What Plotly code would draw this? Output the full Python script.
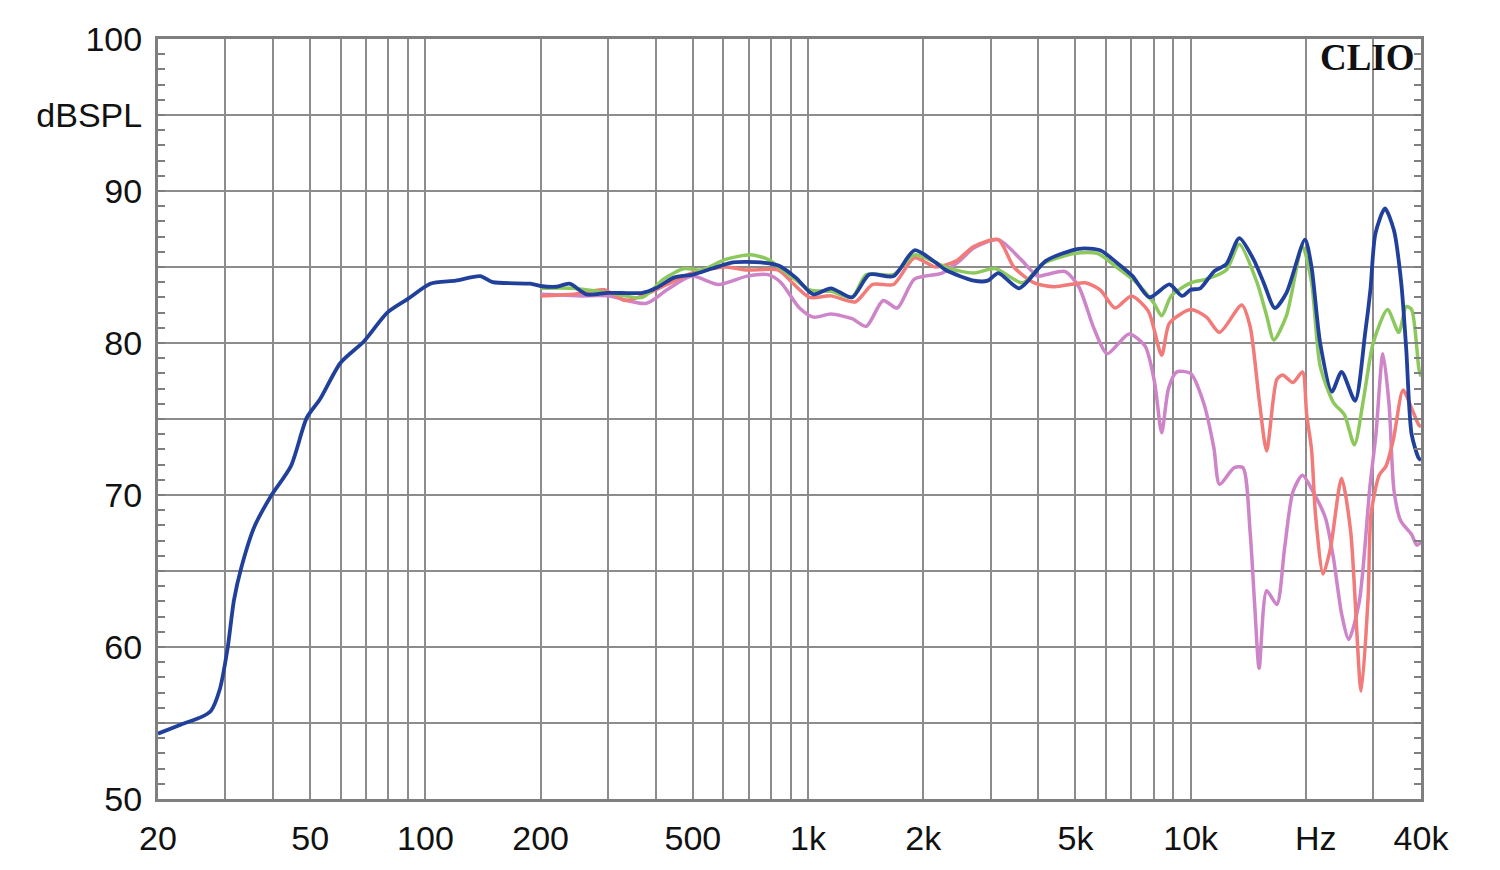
import math
import plotly.graph_objects as go

# ---------------- data ----------------
blue_f = [20, 23, 26, 27.5, 29, 30.4, 31.6, 33, 35.7, 39.4, 44.5, 49, 53, 60, 69, 79.5, 90,
          103, 120, 139, 150, 188, 200, 220, 238, 264, 300, 369, 400, 446, 500, 561, 637,
          753, 837, 929, 1033, 1148, 1303, 1446, 1673, 1897, 2153, 2291, 2711, 2950, 3142,
          3563, 4183, 5100, 5800, 6400, 7050, 7800, 8800, 9500, 10000, 10600, 11500, 12400,
          13400, 14600, 15500, 16600, 17800, 19900, 20700, 21800, 23400, 24800, 26900,
          28600, 29500, 30400, 32200, 34000, 35500, 36600, 37800, 39500, 40000]
blue_db = [54.3, 54.9, 55.4, 55.8, 57.2, 59.9, 63.1, 65.2, 67.9, 69.9, 71.9, 75.1, 76.3, 78.7,
           80.1, 82.0, 82.9, 83.9, 84.1, 84.4, 84.0, 83.9, 83.75, 83.7, 83.9, 83.2, 83.3, 83.3,
           83.6, 84.3, 84.5, 84.9, 85.3, 85.3, 85.1, 84.3, 83.2, 83.6, 83.0, 84.5, 84.4, 86.1,
           85.3, 84.8, 84.1, 84.1, 84.6, 83.6, 85.4, 86.2, 86.1, 85.3, 84.4, 83.0, 83.85, 83.1,
           83.5, 83.6, 84.7, 85.2, 86.9, 85.5, 84.0, 82.3, 83.3, 86.8, 85.0, 80.0, 76.8, 78.1,
           76.2, 80.7, 83.5, 87.2, 88.85, 87.4, 84.0, 79.6, 74.0, 72.4, 72.3]

green_f = [200, 243, 300, 369, 419, 475, 526, 609, 708, 786, 891, 1010, 1148, 1303, 1420, 1673,
           1897, 2153, 2340, 2711, 3080, 3640, 4100, 5000, 5700, 6400, 7200, 8000, 8400, 8900,
           10000, 11000, 12400, 13400, 14900, 15800, 16500, 17800, 19600, 20700, 21800, 23600,
           25200, 26800, 28300, 30000, 32700, 35000, 36600, 37800, 39500, 40000]
green_db = [83.6, 83.6, 83.3, 83.0, 84.2, 84.9, 84.8, 85.5, 85.8, 85.5, 84.5, 83.5, 83.4, 83.0,
            84.5, 84.5, 85.8, 85.3, 84.9, 84.6, 84.9, 83.96, 85.2, 85.9, 85.9, 85.0, 84.0, 82.65,
            81.8, 83.1, 83.96, 84.2, 84.8, 86.5, 84.0, 81.8, 80.2, 81.8, 86.35, 84.0, 78.5, 76.1,
            75.3, 73.3, 76.3, 80.0, 82.2, 80.7, 82.4, 82.2, 78.3, 77.8]

red_f = [200, 243, 293, 332, 369, 428, 497, 609, 693, 837, 910, 1010, 1148, 1328, 1476, 1673,
         1897, 2153, 2440, 2711, 3142, 3450, 3900, 4400, 5300, 5800, 6350, 7000, 7750, 8400,
         8800, 10000, 11000, 11900, 13600, 14300, 15100, 15800, 16800, 17400, 18500, 19600,
         20100, 20700, 21200, 22200, 23200, 24800, 26200, 27900, 29100, 29600, 31100, 32400,
         33900, 35900, 37800, 39500, 40000]
red_db = [83.1, 83.2, 83.5, 82.8, 83.1, 83.85, 84.6, 85.0, 84.8, 84.8, 83.96, 83.0, 83.1, 82.7,
          83.85, 83.85, 85.6, 85.0, 85.4, 86.35, 86.8, 85.0, 83.96, 83.7, 83.96, 83.5, 82.3,
          83.1, 82.1, 79.2, 81.3, 82.2, 81.7, 80.7, 82.5, 81.1, 76.3, 72.9, 77.6, 77.9, 77.4,
          78.1, 75.3, 73.0, 68.7, 64.8, 66.5, 71.1, 67.6, 57.1, 63.3, 68.7, 71.3, 71.9, 73.7,
          76.9, 75.7, 74.6, 74.5]

purple_f = [200, 253, 300, 377, 428, 497, 583, 693, 786, 848, 950, 1033, 1148, 1303, 1420,
            1571, 1710, 1897, 2240, 2490, 2711, 3142, 3600, 3980, 4200, 4700, 5100, 5600,
            6050, 6900, 7600, 8050, 8400, 8750, 9200, 10000, 10800, 11500, 11900, 13000,
            13700, 14300, 14700, 15100, 15800, 16800, 17600, 18500, 19600, 20900, 22500,
            23600, 24800, 25900, 27600, 29400, 30500, 31800, 33000, 34000, 35400, 37800,
            39000, 40000]
purple_db = [83.2, 83.1, 83.1, 82.6, 83.5, 84.4, 83.85, 84.4, 84.5, 84.0, 82.3, 81.7, 81.9,
             81.6, 81.1, 82.8, 82.3, 84.2, 84.6, 85.4, 86.25, 86.8, 85.5, 84.4, 84.5, 84.7,
             83.7, 80.9, 79.3, 80.6, 79.8, 77.4, 74.1, 77.0, 78.1, 78.0, 76.1, 73.1, 70.7, 71.8,
             71.8, 67.6, 62.8, 58.6, 63.7, 62.8, 66.5, 70.2, 71.3, 70.2, 68.5, 65.9, 62.2, 60.5,
             63.0, 70.5, 74.0, 79.3, 76.0, 70.3, 68.3, 67.4, 66.7, 66.9]

x_grid = [20, 30, 40, 50, 60, 70, 80, 90, 100, 200, 300, 400, 500, 600, 700, 800, 900,
          1000, 2000, 3000, 4000, 5000, 6000, 7000, 8000, 9000, 10000, 20000, 30000, 40000]
x_labels = {20: "20", 50: "50", 100: "100", 200: "200", 500: "500", 1000: "1k",
            2000: "2k", 5000: "5k", 10000: "10k", 40000: "40k"}
unit_label = "Hz"
unit_label_f = 21200
y_grid = [50, 55, 60, 65, 70, 75, 80, 85, 90, 95, 100]
y_labels = {50: "50", 60: "60", 70: "70", 80: "80", 90: "90", 95: "dBSPL", 100: "100"}

# ---------------- figure ----------------
fig = go.Figure()
series = [
    (purple_f, purple_db, "#cd84c8", 3.5),
    (red_f, red_db, "#f27a78", 3.5),
    (green_f, green_db, "#8cc85c", 3.5),
    (blue_f, blue_db, "#20409c", 3.8),
]
for fx, fy, col, w in series:
    fig.add_trace(go.Scatter(x=fx, y=fy, mode="lines",
                             line=dict(color=col, width=w, shape="spline", smoothing=0.7),
                             showlegend=False, hoverinfo="skip"))
# dummy trace for the right-hand axis
fig.add_trace(go.Scatter(x=[20], y=[50], yaxis="y2", mode="markers",
                         marker=dict(opacity=0), showlegend=False, hoverinfo="skip"))

grid_col = "#8c8c8c"
frame_col = "#7f7f7f"
font = dict(family="Liberation Sans, Arial, sans-serif", size=34, color="#111111")

fig.update_layout(
    width=1500, height=870,
    margin=dict(l=150, r=87, t=24, b=79),
    paper_bgcolor="white", plot_bgcolor="white",
    xaxis=dict(type="log", range=[math.log10(20), math.log10(40000)],
               tickmode="array", tickvals=x_grid,
               ticktext=[x_labels.get(v, "") for v in x_grid],
               showgrid=True, gridcolor=grid_col, gridwidth=1.5,
               showline=True, linecolor=frame_col, linewidth=3, mirror=True,
               ticks="", tickfont=font, ticklabelstandoff=7, zeroline=False),
    yaxis=dict(range=[50, 100], tickmode="array", tickvals=y_grid,
               ticktext=[y_labels.get(v, "") for v in y_grid],
               showgrid=True, gridcolor=grid_col, gridwidth=1.5,
               showline=True, linecolor=frame_col, linewidth=3, mirror=True,
               ticks="inside", ticklen=7, tickcolor=frame_col, tickwidth=1.5,
               minor=dict(dtick=1, ticks="inside", ticklen=7, tickcolor=frame_col,
                          tickwidth=1.5, showgrid=False),
               tickfont=font, ticklabelstandoff=6, zeroline=False),
    yaxis2=dict(range=[50, 100], overlaying="y", side="right", anchor="x",
                showgrid=False, showticklabels=False, showline=False, zeroline=False,
                tickmode="array", tickvals=y_grid,
                ticks="inside", ticklen=7, tickcolor=frame_col, tickwidth=1.5,
                minor=dict(dtick=1, ticks="inside", ticklen=7, tickcolor=frame_col,
                           tickwidth=1.5, showgrid=False)),
)

# unit label placed on the frequency axis, slightly right of the 20k gridline
fig.add_annotation(xref="x", yref="paper", x=math.log10(unit_label_f), y=0,
                   xanchor="center", yanchor="top", yshift=-18, text=unit_label,
                   showarrow=False, font=font)

fig.add_annotation(xref="paper", yref="paper", x=0.997, y=1.0, xanchor="right", yanchor="top",
                   yshift=4, text="<b>CLIO</b>", showarrow=False,
                   font=dict(family="Liberation Serif, Times New Roman, serif", size=37,
                             color="#111111"))

fig.write_html("out.html")
